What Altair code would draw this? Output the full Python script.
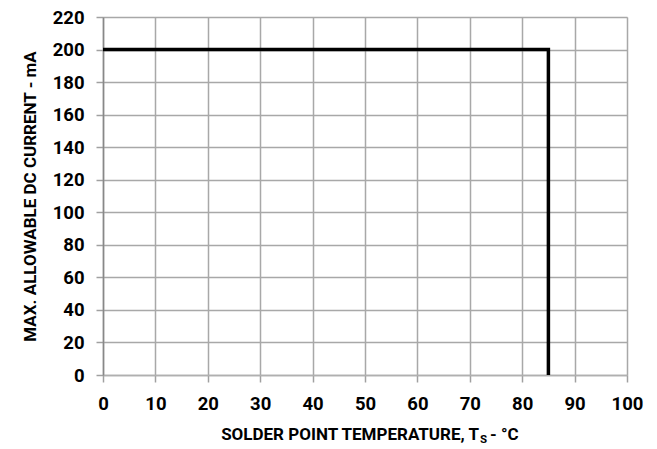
import altair as alt
import pandas as pd

temps = [0, 85, 85]
currents = [200, 200, 0]
order = [0, 1, 2]
x_ticks = list(range(0, 101, 10))
y_ticks = list(range(0, 221, 20))

FONT = "Roboto"
LFS = 18.5
TFS = 17
W, H = 524, 358

df = pd.DataFrame({"t": temps, "i": currents, "o": order})

line = alt.Chart(df).mark_line(color="black", strokeWidth=3.5, strokeCap="butt", strokeJoin="miter").encode(
    x=alt.X("t:Q", scale=alt.Scale(domain=[0, 100], nice=False),
            axis=alt.Axis(values=x_ticks, title=None, labelFontSize=LFS, labelFont=FONT,
                          labelFontWeight="bold", labelColor="black", labelPadding=12,
                          labelFlush=False,
                          tickSize=7, tickColor="#a0a0a0", tickWidth=1.5,
                          gridColor="#a8a8a8", gridWidth=1.5, domainColor="#b0b0b0",
                          domainWidth=1.5)),
    y=alt.Y("i:Q", scale=alt.Scale(domain=[0, 220], nice=False),
            axis=alt.Axis(values=y_ticks, title="MAX. ALLOWABLE DC CURRENT - mA",
                          titleFont=FONT, titleFontSize=TFS, titleFontWeight="bold",
                          titleColor="black", titlePadding=13,
                          labelFontSize=LFS, labelFont=FONT, labelFlush=False,
                          labelFontWeight="bold", labelColor="black", labelPadding=12,
                          tickSize=7, tickColor="#a0a0a0", tickWidth=1.5,
                          gridColor="#a8a8a8", gridWidth=1.5, domainColor="#888888",
                          domainWidth=1.5)),
    order="o:O",
)

title_main = alt.Chart(pd.DataFrame({"s": ["SOLDER POINT TEMPERATURE, T"]})).mark_text(
    align="right", baseline="middle", font=FONT, fontSize=TFS, fontWeight="bold", color="black"
).encode(text="s:N", x=alt.value(376), y=alt.value(418))

title_sub = alt.Chart(pd.DataFrame({"s": ["S"]})).mark_text(
    align="left", baseline="middle", font=FONT, fontSize=11.5, fontWeight="bold", color="black"
).encode(text="s:N", x=alt.value(377), y=alt.value(423))

title_end = alt.Chart(pd.DataFrame({"s": ["- °C"]})).mark_text(
    align="left", baseline="middle", font=FONT, fontSize=TFS, fontWeight="bold", color="black"
).encode(text="s:N", x=alt.value(387), y=alt.value(418))

chart = alt.layer(line, title_main, title_sub, title_end).properties(
    width=W, height=H,
    autosize=alt.AutoSizeParams(type="none"),
    padding={"left": 95, "top": 9, "right": 22, "bottom": 74},
).configure_view(stroke=None).configure(background="white")

chart.save("out.html", embed_options={"renderer": "svg", "actions": False})
